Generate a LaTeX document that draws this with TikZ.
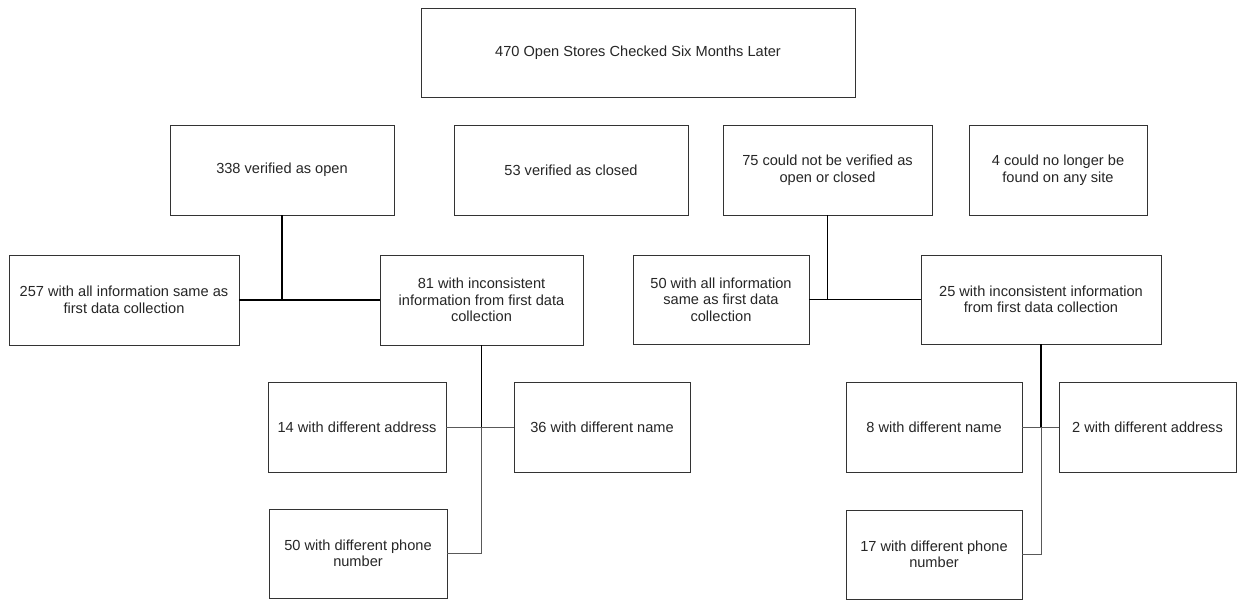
\documentclass[tikz,border=0pt]{standalone}
\usepackage{fontspec}
\setmainfont{Liberation Sans}
\begin{document}
\begin{tikzpicture}[x=1pt,y=-1pt,
  box/.style={draw=black!80, line width=0.9pt, align=center, inner sep=0pt,
    font=\fontsize{14.6}{16.5}\selectfont, text=black!85},
  stem/.style={draw=black, line width=1.4pt},
  branch/.style={draw=black!65, line width=1pt}]
\useasboundingbox[fill=white] (0,0) rectangle (1245,604);
\newcommand\bx[7]{\node[box, minimum width=#4pt, minimum height=#5pt] (#1) at (#2,#3) {#6};}
% row 0
\bx{top}{638}{52.5}{434}{89}{470 Open Stores Checked Six Months Later}{}
% row 1
\bx{open}{282}{170}{224}{90}{338 verified as open}{}
\bx{closed}{571}{170}{234}{90}{53 verified as closed}{}
\bx{unver}{827.5}{170}{209}{90}{75 could not be verified as\\open or closed}{}
\bx{lost}{1058}{170}{178}{90}{4 could no longer be\\found on any site}{}
% row 2
\bx{same1}{124}{300}{230}{90}{257 with all information same as\\first data collection}{}
\bx{inc1}{481.5}{300}{203}{90}{81 with inconsistent\\information from first data\\collection}{}
\bx{same2}{721}{299.5}{176}{89}{50 with all information\\same as first data\\collection}{}
\bx{inc2}{1041}{299.5}{240}{89}{25 with inconsistent information\\from first data collection}{}
% row 3
\bx{addr1}{357}{427}{178}{90}{14 with different address}{}
\bx{name1}{602}{427}{176}{90}{36 with different name}{}
\bx{name2}{934}{427}{176}{90}{8 with different name}{}
\bx{addr2}{1147.5}{427}{177}{90}{2 with different address}{}
% row 4
\bx{phone1}{358}{553.5}{178}{89}{50 with different phone\\number}{}
\bx{phone2}{934}{554.5}{176}{89}{17 with different phone\\number}{}
% connectors
\coordinate (j1) at (open.south |- same1.east);
\draw[stem] (open.south) -- (j1);
\draw[stem] (same1.east) -- (inc1.west);
\coordinate (j2) at (unver.south |- same2.east);
\draw[stem] (unver.south) -- (j2);
\draw[stem] (same2.east) -- (inc2.west);
\coordinate (k1) at (inc1.south |- addr1.east);
\draw[branch] (addr1.east) -- (name1.west);
\draw[branch] (k1) |- (phone1.east);
\draw[stem] (inc1.south) -- (k1);
\coordinate (k2) at (inc2.south |- name2.east);
\draw[branch] (name2.east) -- (addr2.west);
\draw[branch] (k2) |- (phone2.east);
\draw[stem] (inc2.south) -- (k2);
\end{tikzpicture}
\end{document}
